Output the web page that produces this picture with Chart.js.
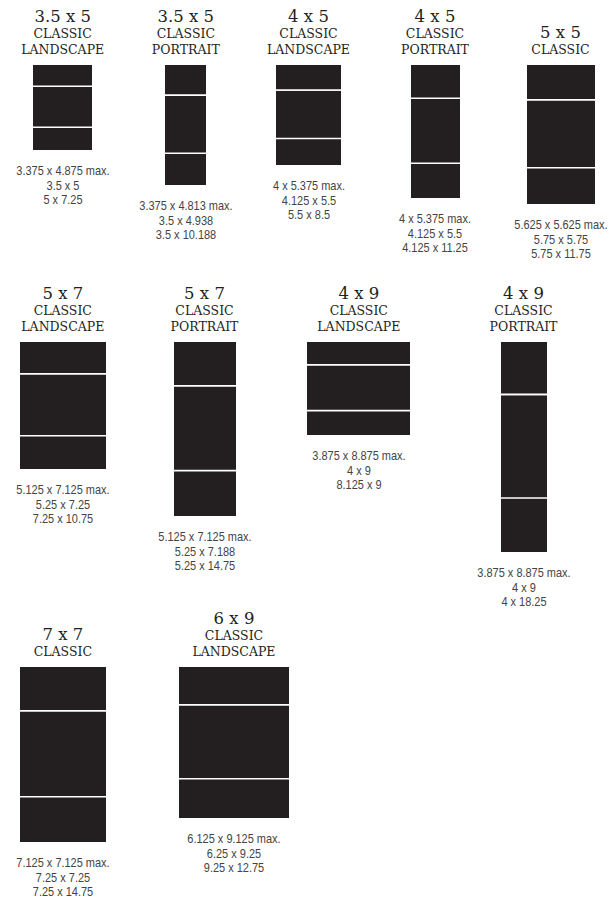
<!DOCTYPE html>
<html><head><meta charset="utf-8">
<script src="https://cdn.jsdelivr.net/npm/chart.js@4.4.1/dist/chart.umd.min.js"></script>
<style>
html,body{margin:0;padding:0;background:#fff}
body{width:613px;height:899px;position:relative;overflow:hidden}
canvas.box{position:absolute}
.hd{position:absolute;text-align:center;font-family:'DejaVu Serif',serif;color:#231f20;white-space:nowrap;transform:translateX(-50%)}
.hd .t{font-size:16.5px;line-height:18px}
.hd .s{font-size:12.5px;line-height:16px}
.ft{position:absolute;text-align:center;font-family:'Liberation Sans',Arial,sans-serif;color:#444;white-space:nowrap;transform:translateX(-50%) scaleX(0.9);font-size:12.2px;line-height:14.7px}
</style></head>
<body>
<script>
// ---- data ----
const cardSizes   = ['3.5 x 5','3.5 x 5','4 x 5','4 x 5','5 x 5','5 x 7','5 x 7','4 x 9','4 x 9','7 x 7','6 x 9'];
const styleLine1  = ['CLASSIC','CLASSIC','CLASSIC','CLASSIC','CLASSIC','CLASSIC','CLASSIC','CLASSIC','CLASSIC','CLASSIC','CLASSIC'];
const styleLine2  = ['LANDSCAPE','PORTRAIT','LANDSCAPE','PORTRAIT','','LANDSCAPE','PORTRAIT','LANDSCAPE','PORTRAIT','','LANDSCAPE'];
const maxLabels   = ['3.375 x 4.875 max.','3.375 x 4.813 max.','4 x 5.375 max.','4 x 5.375 max.','5.625 x 5.625 max.','5.125 x 7.125 max.','5.125 x 7.125 max.','3.875 x 8.875 max.','3.875 x 8.875 max.','7.125 x 7.125 max.','6.125 x 9.125 max.'];
const faceLabels  = ['3.5 x 5','3.5 x 4.938','4.125 x 5.5','4.125 x 5.5','5.75 x 5.75','5.25 x 7.25','5.25 x 7.188','4 x 9','4 x 9','7.25 x 7.25','6.25 x 9.25'];
const openLabels  = ['5 x 7.25','3.5 x 10.188','5.5 x 8.5','4.125 x 11.25','5.75 x 11.75','7.25 x 10.75','5.25 x 14.75','8.125 x 9','4 x 18.25','7.25 x 14.75','9.25 x 12.75'];
// panel dimensions (inches)
const panelWidth  = [5, 3.5, 5.5, 4.125, 5.75, 7.25, 5.25, 9, 4, 7.25, 9.25];
const topFlap     = [1.875, 2.625, 2.1875, 2.875, 3, 2.75, 3.781, 2.0625, 4.625, 3.75, 3.25];
const cardFace    = [3.5, 4.938, 4.125, 5.5, 5.75, 5.25, 7.188, 4, 9, 7.25, 6.25];
const bottomFlap  = [1.875, 2.625, 2.1875, 2.875, 3, 2.75, 3.781, 2.0625, 4.625, 3.75, 3.25];

// ---- layout (pixels) ----
const centerX = [62.7, 185.8, 308.5, 435, 560.5, 62.8, 204.5, 358.8, 523.5, 62.8, 234];
const boxTop  = [64.5, 64.5, 64.5, 64.5, 65, 341.7, 341.7, 341.7, 341.7, 666.7, 667.3];
const pxPerIn = [11.75, 11.8, 11.8, 11.8, 11.8, 11.8, 11.8, 11.4, 11.5, 11.85, 11.85];

const INK = '#231f20';

function addDiv(cls, html, left, top, bottom){
  const d = document.createElement('div');
  d.className = cls; d.innerHTML = html;
  d.style.left = left + 'px';
  if (top !== null) d.style.top = top + 'px';
  if (bottom !== null) d.style.bottom = bottom + 'px';
  document.body.appendChild(d);
}

for (let i = 0; i < cardSizes.length; i++) {
  const s = pxPerIn[i];
  const total = topFlap[i] + cardFace[i] + bottomFlap[i];
  const w = Math.round(panelWidth[i] * s);
  const h = Math.round(total * s);
  const cv = document.createElement('canvas');
  cv.className = 'box';
  cv.width = w; cv.height = h;
  cv.style.width = w + 'px'; cv.style.height = h + 'px';
  cv.style.left = Math.round(centerX[i] - w / 2) + 'px';
  cv.style.top = Math.round(boxTop[i]) + 'px';
  document.body.appendChild(cv);

  const sep = {top: 0, left: 0, right: 0, bottom: 1.6};
  new Chart(cv, {
    type: 'bar',
    data: {
      labels: [cardSizes[i]],
      datasets: [
        {label: 'Bottom flap', data: [bottomFlap[i]], backgroundColor: INK, borderWidth: 0},
        {label: 'Card face', data: [cardFace[i]], backgroundColor: INK, borderColor: '#fff', borderWidth: sep, borderSkipped: false},
        {label: 'Top flap', data: [topFlap[i]], backgroundColor: INK, borderColor: '#fff', borderWidth: sep, borderSkipped: false}
      ]
    },
    options: {
      responsive: false, animation: false, devicePixelRatio: 1,
      layout: {padding: 0},
      datasets: {bar: {barPercentage: 1, categoryPercentage: 1, inflateAmount: 0}},
      plugins: {legend: {display: false}, tooltip: {enabled: false}, title: {display: false}},
      scales: {
        x: {display: false, stacked: true},
        y: {display: false, stacked: true, min: 0, max: total}
      }
    }
  });

  // header (anchored to box top)
  let hd = '<div class="t">' + cardSizes[i] + '</div><div class="s">' + styleLine1[i] + '</div>';
  if (styleLine2[i]) hd += '<div class="s">' + styleLine2[i] + '</div>';
  addDiv('hd', hd, centerX[i], null, 899 - boxTop[i] + 7);

  // footer (below box)
  const ft = maxLabels[i] + '<br>' + faceLabels[i] + '<br>' + openLabels[i];
  addDiv('ft', ft, centerX[i], Math.round(boxTop[i]) + h + 14, null);
}
</script>
</body></html>
